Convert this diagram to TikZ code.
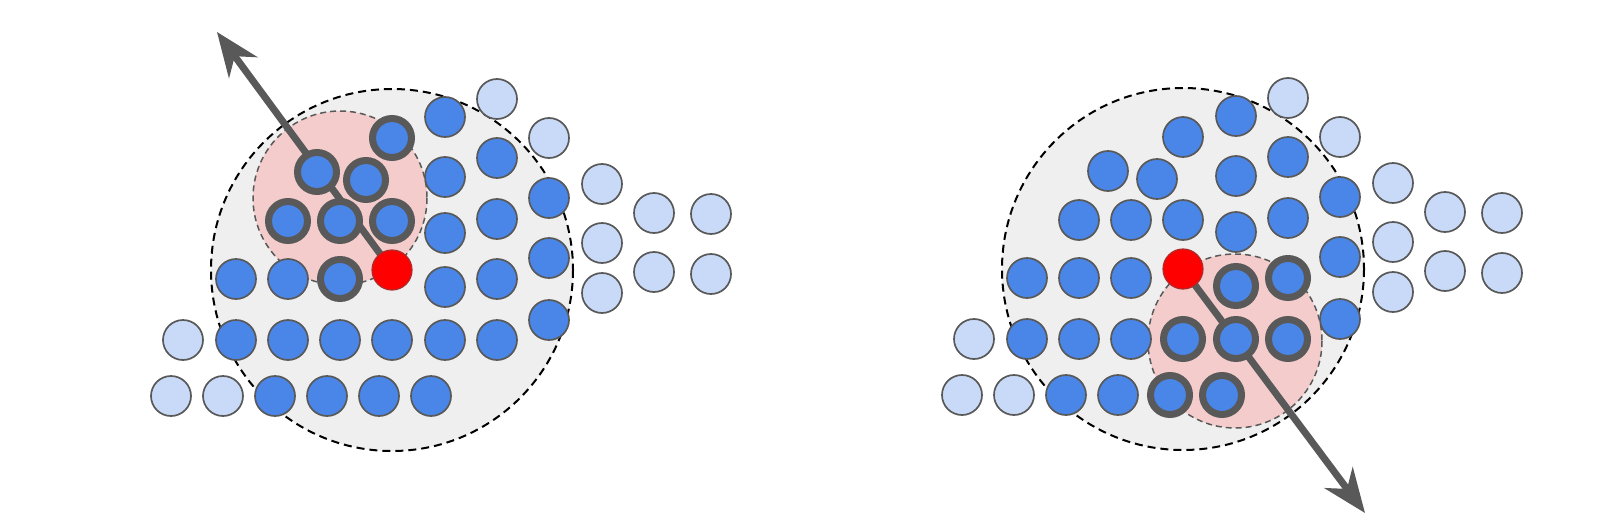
\documentclass[tikz,border=0pt]{standalone}
\usetikzlibrary{arrows.meta}
\definecolor{dblue}{HTML}{4A86E8}
\definecolor{lblue}{HTML}{C9DAF8}
\definecolor{bord}{HTML}{595959}
\definecolor{outerfill}{HTML}{EFEFEF}
\definecolor{pinkfill}{HTML}{F4CCCC}
\tikzset{
  lbc/.style={fill=lblue,draw=bord,line width=1.7pt},
  dbc/.style={fill=dblue,draw=bord,line width=1.7pt},
  tbc/.style={fill=dblue,draw=bord,line width=7pt},
  redc/.style={fill=red,draw=bord!50!red,line width=1.2pt},
  outerc/.style={fill=outerfill,draw=black,line width=2pt,dash pattern=on 8pt off 5pt},
  pinkc/.style={fill=pinkfill,draw=bord,line width=1.5pt,dash pattern=on 6pt off 4pt},
  dirarrow/.style={draw=bord,line width=7pt,-{Stealth[length=44pt,width=35pt,inset=14pt]}},
}
\begin{document}
\begin{tikzpicture}[x=1pt,y=-1pt]
\useasboundingbox[fill=white] (0,0) rectangle (1611,530);
% ---------- left panel ----------
\begin{scope}[shift={(392,270)}]
  \coordinate (redL) at (0,0);
  \coordinate (pinkL) at (-52,-72);
  \coordinate (tipL) at (-175,-238);
  \draw[outerc] (redL) circle[radius=181];
  \draw[pinkc] (pinkL) circle[radius=87];
  \draw[dirarrow] (redL) -- (tipL);
  \foreach \x/\y in {-221/126,-169/126,-209/70,105/-171,157/-132,210/-86,210/-27,210/23,262/-57,262/2,319/-56,319/4}
    \draw[lbc] (\x,\y) circle[radius=20];
  \foreach \x/\y in {-117/126,-65/126,-13/126,39/126,-156/70,-104/70,-52/70,0/70,53/70,105/70,-156/9,-104/9,53/-153,53/-93,53/-37,53/17,105/-112,105/-51,105/9,157/-72,157/-12,157/50}
    \draw[dbc] (\x,\y) circle[radius=20];
  \foreach \x/\y in {0/-132,-75/-98,-26/-90,-104/-49,-52/-49,0/-49,-52/9}
    \draw[tbc] (\x,\y) circle[radius=19.5];
  \draw[redc] (redL) circle[radius=20];
\end{scope}
% ---------- right panel ----------
\begin{scope}[shift={(1183,269)}]
  \coordinate (redR) at (0,0);
  \coordinate (pinkR) at (52,72);
  \coordinate (tipR) at (182,244);
  \draw[outerc] (redR) circle[radius=181];
  \draw[pinkc] (pinkR) circle[radius=87];
  \draw[dirarrow] (redR) -- (tipR);
  \foreach \x/\y in {-221/126,-169/126,-209/70,105/-171,157/-132,210/-86,210/-27,210/23,262/-57,262/2,319/-56,319/4}
    \draw[lbc] (\x,\y) circle[radius=20];
  \foreach \x/\y in {-117/126,-65/126,-156/70,-104/70,-52/70,-156/9,-104/9,-52/9,53/-153,53/-93,53/-37,105/-112,105/-51,157/-72,157/-12,157/50,0/-132,-75/-98,-26/-90,-104/-49,-52/-49,0/-49}
    \draw[dbc] (\x,\y) circle[radius=20];
  \foreach \x/\y in {53/17,105/9,0/70,53/70,105/70,-13/126,39/126}
    \draw[tbc] (\x,\y) circle[radius=19.5];
  \draw[redc] (redR) circle[radius=20];
\end{scope}
\end{tikzpicture}
\end{document}
